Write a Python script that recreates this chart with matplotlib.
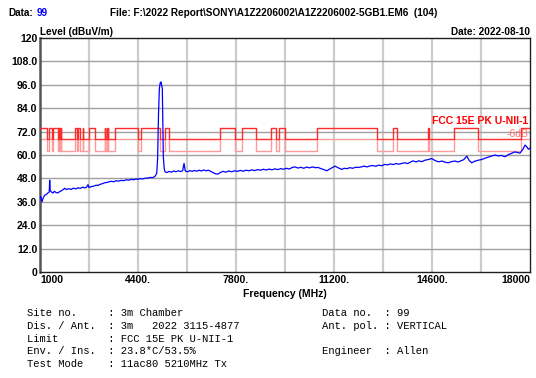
"""Radiated emission scan, 1-18 GHz, peak detector against FCC 15E U-NII-1 limit."""

import matplotlib
matplotlib.use("Agg")
import matplotlib.pyplot as plt
import numpy as np

# measured trace (MHz, dBuV/m)
freq_mhz = [
    1000, 1024, 1069, 1110, 1163, 1220, 1278, 1320, 1336, 1355, 1393, 1450,
    1500, 1560, 1625, 1690, 1760, 1857, 1920, 1990, 2087, 2160, 2240, 2318,
    2400, 2480, 2560, 2620, 2666, 2700, 2780, 2860, 2940, 3012, 3090, 3170,
    3245, 3320, 3400, 3474, 3560, 3640, 3730, 3821, 3900, 3990, 4080, 4168,
    4250, 4330, 4400, 4480, 4560, 4650, 4747, 4830, 4900, 4980, 5049, 5080,
    5110, 5140, 5170, 5198, 5225, 5244, 5265, 5279, 5310, 5337, 5400, 5480,
    5560, 5640, 5720, 5800, 5880, 5950, 5997, 6040, 6120, 6200, 6280, 6360,
    6440, 6520, 6600, 6680, 6760, 6840, 6920, 7000, 7080, 7176, 7250, 7350,
    7450, 7550, 7650, 7750, 7850, 7950, 8050, 8150, 8250, 8350, 8450, 8550,
    8650, 8750, 8850, 8950, 9050, 9150, 9250, 9350, 9450, 9550, 9650, 9750,
    9850, 9950, 10050, 10150, 10250, 10350, 10450, 10550, 10650, 10750, 10850,
    10950, 11050, 11150, 11236, 11350, 11468, 11550, 11650, 11750, 11850,
    11950, 12034, 12150, 12250, 12350, 12450, 12550, 12650, 12750, 12850,
    12971, 13050, 13150, 13250, 13350, 13450, 13550, 13665, 13750, 13850,
    13942, 14050, 14127, 14250, 14350, 14450, 14591, 14700, 14821, 14950,
    15050, 15168, 15280, 15400, 15500, 15600, 15700, 15806, 15900, 15980,
    16080, 16200, 16326, 16450, 16550, 16650, 16788, 16900, 17000, 17135,
    17250, 17350, 17482, 17580, 17655, 17750, 17829, 17900, 17943, 18000,
]
level_dbuv = [
    38.0, 38.6, 36.0, 38.0, 39.4, 39.8, 40.6, 41.0, 47.1, 41.8, 41.1, 40.5,
    41.4, 40.7, 40.6, 41.3, 41.8, 42.9, 42.3, 42.7, 42.4, 43.0, 42.6, 43.2,
    42.9, 43.5, 43.1, 43.6, 44.8, 43.3, 43.8, 44.0, 44.5, 44.4, 45.0, 45.3,
    45.8, 45.9, 46.3, 46.5, 46.3, 46.8, 46.6, 47.0, 46.8, 47.3, 47.1, 47.5,
    47.3, 47.7, 47.5, 47.9, 47.7, 48.1, 48.2, 48.5, 48.4, 48.9, 50.5, 58.0,
    80.0, 94.0, 97.0, 97.5, 95.5, 94.0, 75.0, 59.0, 53.0, 51.4, 51.0, 51.6,
    51.2, 51.8, 51.4, 51.9, 51.5, 52.0, 55.7, 51.8, 51.4, 52.0, 51.6, 52.1,
    51.7, 52.2, 51.8, 52.3, 51.9, 52.2, 51.6, 51.0, 50.4, 50.2, 51.0, 51.6,
    51.2, 51.8, 51.4, 51.9, 51.6, 52.1, 51.7, 52.2, 51.9, 52.4, 52.0, 52.5,
    52.2, 52.7, 52.3, 52.8, 52.4, 52.9, 52.5, 53.0, 52.7, 53.2, 52.8, 53.6,
    53.9, 53.3, 53.7, 53.2, 53.8, 53.4, 53.9, 53.5, 53.6, 53.0, 52.5,
    51.9, 52.8, 53.6, 54.3, 53.4, 52.6, 53.2, 53.0, 53.5, 53.2,
    53.7, 53.6, 53.9, 54.3, 53.9, 54.4, 54.6, 54.2, 54.8, 54.5,
    55.2, 54.9, 55.4, 55.1, 55.6, 55.3, 55.7, 56.0, 55.6, 56.3,
    57.0, 56.4, 57.0, 56.6, 57.3, 57.6, 58.2, 57.2, 56.5, 56.9,
    56.3, 56.0, 56.6, 56.9, 56.4, 57.0, 57.6, 59.4, 57.0, 56.0,
    56.8, 57.3, 57.7, 58.4, 58.9, 59.4, 60.0, 59.5, 59.8, 59.1,
    60.2, 60.8, 61.6, 61.2, 61.0, 62.8, 65.1, 64.0, 62.9, 63.5,
]

# FCC 15.205 restricted bands (MHz) inside the scan
restricted_bands = [
    (960, 1240), (1300, 1427), (1435, 1626.5), (1645.5, 1646.5), (1660, 1710),
    (1718.8, 1722.2), (2200, 2300), (2310, 2390), (2483.5, 2500), (2690, 2900),
    (3260, 3267), (3332, 3339), (3345.8, 3358), (3600, 4400), (4500, 5150),
    (5350, 5460), (7250, 7750), (8025, 8500), (9000, 9200), (9300, 9500),
    (10600, 12700), (13250, 13400), (14470, 14500), (15350, 16200), (17700, 21400),
]
limit_restricted = 74.0
limit_other = 68.2
margin_db = 6.0

f_start, f_stop = 1000, 18000
x_tick_vals = [1000, 4400, 7800, 11200, 14600, 18000]
x_tick_text = ["1000", "4400.", "7800.", "11200.", "14600.", "18000"]
y_tick_vals = [0, 12, 24, 36, 48, 60, 72, 84, 96, 108, 120]
y_tick_text = ["0", "12.0", "24.0", "36.0", "48.0", "60.0", "72.0", "84.0",
               "96.0", "108.0", "120"]

info_left = [
    ("Site no.", "3m Chamber"),
    ("Dis. / Ant.", "3m   2022 3115-4877"),
    ("Limit", "FCC 15E PK U-NII-1"),
    ("Env. / Ins.", "23.8*C/53.5%"),
    ("Test Mode", "11ac80 5210MHz Tx"),
]
info_right = [
    ("Data no.", "99"),
    ("Ant. pol.", "VERTICAL"),
    None,
    ("Engineer", "Allen"),
]


def limit_steps():
    edges = {f_start, f_stop}
    for lo, hi in restricted_bands:
        for e in (lo, hi):
            if f_start < e < f_stop:
                edges.add(e)
    edges = sorted(edges)
    levels = []
    for a, b in zip(edges[:-1], edges[1:]):
        mid = 0.5 * (a + b)
        inside = any(lo <= mid <= hi for lo, hi in restricted_bands)
        levels.append(limit_restricted if inside else limit_other)
    levels.append(levels[-1])
    return np.array(edges), np.array(levels)


plt.rcParams["font.family"] = ["Liberation Sans", "DejaVu Sans"]
fs = 7.5
fs_head = 7.2

fig = plt.figure(figsize=(5.36, 3.78), dpi=100)
ax = fig.add_axes([40 / 536, 1 - 272 / 378, 490 / 536, 234 / 378])

lx, ly = limit_steps()
ax.plot(lx, ly - margin_db, drawstyle="steps-post", color="#ff9a9a", lw=1.0, zorder=2)
ax.plot(lx, ly, drawstyle="steps-post", color="#ff2a2a", lw=1.0, zorder=3)
ax.plot(freq_mhz, level_dbuv, color="#0000ff", lw=0.9, zorder=4)

ax.set_xlim(f_start, f_stop)
ax.set_ylim(0, 120)
for f in np.arange(f_start + 1700, f_stop, 1700):
    ax.axvline(f, color="#cccccc", lw=1.6, zorder=1)
for v in y_tick_vals[1:-1]:
    ax.axhline(v, color="#a0a0a0", lw=1.0, zorder=1)

ax.set_yticks(y_tick_vals)
ax.set_yticklabels(y_tick_text, fontsize=fs, fontweight="bold")
ax.set_xticks(x_tick_vals)
ax.set_xticklabels(x_tick_text, fontsize=fs, fontweight="bold")
xl = ax.get_xticklabels()
xl[0].set_ha("left")
xl[-1].set_ha("right")
ax.tick_params(length=0, pad=2)
for side in ("top", "right", "bottom"):
    ax.spines[side].set_color("#202020")
    ax.spines[side].set_linewidth(1.0)
ax.spines["left"].set_color("#555555")
ax.spines["left"].set_linewidth(1.8)

ax.set_xlabel("Frequency (MHz)", fontsize=fs, fontweight="bold", labelpad=3)

ax.text(f_stop - 60, 77.4, "FCC 15E PK U-NII-1", color="#ff0000", fontsize=fs,
        fontweight="bold", ha="right", va="center", zorder=5)
ax.text(f_stop - 60, 71.0, "-6dB", color="#ff7070", fontsize=fs,
        ha="right", va="center", zorder=5)

# header
t_data = fig.text(8 / 536, 1 - 13 / 378, "Data:", fontsize=fs_head,
                  fontweight="bold", va="center")
ax.annotate("99", xy=(1, 0.5), xycoords=t_data, xytext=(3, 0),
            textcoords="offset points", fontsize=fs_head, fontweight="bold",
            va="center", ha="left", color="#0000ff", annotation_clip=False)
fig.text(110 / 536, 1 - 13 / 378,
         "File: F:\\2022 Report\\SONY\\A1Z2206002\\A1Z2206002-5GB1.EM6  (104)",
         fontsize=fs_head, fontweight="bold", va="center")
fig.text(40 / 536, 1 - 32 / 378, "Level (dBuV/m)", fontsize=fs_head,
         fontweight="bold", va="center")
fig.text(530 / 536, 1 - 32 / 378, "Date: 2022-08-10", fontsize=fs_head,
         fontweight="bold", va="center", ha="right")

# test conditions block
mono = ["Liberation Mono", "DejaVu Sans Mono"]
for i, item in enumerate(info_left):
    y = 1 - (313 + 12.8 * i) / 378
    fig.text(27 / 536, y, f"{item[0]:<13}: {item[1]}", family=mono, fontsize=7.6,
             va="center")
for i, item in enumerate(info_right):
    if item is None:
        continue
    y = 1 - (313 + 12.8 * i) / 378
    fig.text(322 / 536, y, f"{item[0]:<10}: {item[1]}", family=mono, fontsize=7.6,
             va="center")

fig.savefig("out.png", dpi=100)
